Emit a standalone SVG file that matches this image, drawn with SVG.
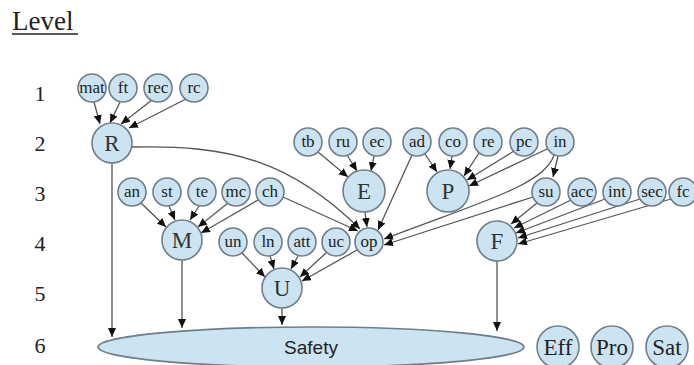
<svg xmlns="http://www.w3.org/2000/svg" width="694" height="365" viewBox="0 0 694 365">
  <defs>
    <marker id="arrow" markerUnits="userSpaceOnUse" markerWidth="9" markerHeight="8" refX="9" refY="4" orient="auto">
      <path d="M0,0 L9,4 L0,8 z" fill="#111"/>
    </marker>
    <style>
      .node circle, .node ellipse { fill: #cce3f1; stroke: #6f7e89; stroke-width: 1.6; }
      .edges path { fill: none; stroke: #555; stroke-width: 1.3; marker-end: url(#arrow); }
      .sm { font-family: "Liberation Serif", "Times New Roman", serif; font-size: 17px; fill: #1e1e1e; text-anchor: middle; }
      .bg { font-family: "Liberation Serif", "Times New Roman", serif; font-size: 23px; fill: #333; text-anchor: middle; }
      .md { font-family: "Liberation Serif", "Times New Roman", serif; font-size: 23px; fill: #222; text-anchor: middle; }
      .lvl { font-family: "Liberation Serif", "Times New Roman", serif; font-size: 22px; fill: #222; text-anchor: middle; }
      .title { font-family: "Liberation Serif", "Times New Roman", serif; font-size: 27px; fill: #222; }
    </style>
  </defs>
  <rect width="694" height="365" fill="#fff"/>

  <!-- heading and level numbers -->
  <text class="title" x="12" y="30">Level</text>
  <line x1="12" y1="34" x2="78" y2="34" stroke="#222" stroke-width="1.5"/>
  <text class="lvl" x="40" y="101">1</text>
  <text class="lvl" x="40" y="151">2</text>
  <text class="lvl" x="40" y="201">3</text>
  <text class="lvl" x="40" y="251">4</text>
  <text class="lvl" x="40" y="301">5</text>
  <text class="lvl" x="40" y="353">6</text>

  <!-- connectors -->
  <g id="connectors" class="edges">
    <path d="M94,102 L100,124"/>
    <path d="M120,102 L110,123"/>
    <path d="M152,100 L121,124"/>
    <path d="M186,99 L129,128"/>
    <path d="M132,147 C230,145 290,160 360,229"/>
    <path d="M283,197 L358,231"/>
    <path d="M365,212 L367,227"/>
    <path d="M412,155 L378,230"/>
    <path d="M554,155 C545,185 480,202 384,239"/>
    <path d="M533,197 L384,245"/>
    <path d="M425,154 L437,172"/>
    <path d="M452,156 L450,169"/>
    <path d="M479,153 L464,176"/>
    <path d="M514,151 L467,180"/>
    <path d="M547,149 L469,186"/>
    <path d="M558,156 L553,177"/>
    <path d="M318,152 L348,177"/>
    <path d="M347,155 L357,171"/>
    <path d="M374,156 L371,171"/>
    <path d="M141,203 L166,227"/>
    <path d="M169,206 L175,220"/>
    <path d="M199,206 L190,220"/>
    <path d="M228,203 L198,227"/>
    <path d="M258,200 L201,233"/>
    <path d="M242,253 L265,277"/>
    <path d="M270,256 L274,269"/>
    <path d="M298,256 L291,269"/>
    <path d="M327,252 L300,277"/>
    <path d="M357,250 L302,281"/>
    <path d="M537,203 L511,224"/>
    <path d="M571,200 L514,228"/>
    <path d="M605,199 L516,233"/>
    <path d="M640,199 L518,238"/>
    <path d="M671,199 L518,244"/>
    <path d="M112,163 L112,337"/>
    <path d="M182,260 L182,328"/>
    <path d="M282,308 L282,325"/>
    <path d="M497,261 L497,331"/>
  </g>

  <!-- level 1 -->
  <g id="mat" class="node"><circle cx="92" cy="88" r="14"/><text class="sm" x="92" y="93">mat</text></g>
  <g id="ft" class="node"><circle cx="123" cy="88" r="14"/><text class="sm" x="123" y="93">ft</text></g>
  <g id="rec" class="node"><circle cx="158" cy="88" r="14"/><text class="sm" x="158" y="93">rec</text></g>
  <g id="rc" class="node"><circle cx="194" cy="88" r="14"/><text class="sm" x="194" y="93">rc</text></g>

  <!-- level 2 -->
  <g id="R" class="node"><circle cx="112" cy="143" r="20"/><text class="bg" x="112" y="151">R</text></g>
  <g id="tb" class="node"><circle cx="308" cy="142" r="14"/><text class="sm" x="308" y="147">tb</text></g>
  <g id="ru" class="node"><circle cx="343" cy="142" r="14"/><text class="sm" x="343" y="147">ru</text></g>
  <g id="ec" class="node"><circle cx="377" cy="142" r="14"/><text class="sm" x="377" y="147">ec</text></g>
  <g id="ad" class="node"><circle cx="417" cy="142" r="14"/><text class="sm" x="417" y="147">ad</text></g>
  <g id="co" class="node"><circle cx="453" cy="142" r="14"/><text class="sm" x="453" y="147">co</text></g>
  <g id="re" class="node"><circle cx="488" cy="142" r="14"/><text class="sm" x="488" y="147">re</text></g>
  <g id="pc" class="node"><circle cx="524" cy="142" r="14"/><text class="sm" x="524" y="147">pc</text></g>
  <g id="in" class="node"><circle cx="560" cy="142" r="14"/><text class="sm" x="560" y="147">in</text></g>

  <!-- level 3 -->
  <g id="an" class="node"><circle cx="132" cy="192" r="14"/><text class="sm" x="132" y="197">an</text></g>
  <g id="st" class="node"><circle cx="167" cy="192" r="14"/><text class="sm" x="167" y="197">st</text></g>
  <g id="te" class="node"><circle cx="202" cy="192" r="14"/><text class="sm" x="202" y="197">te</text></g>
  <g id="mc" class="node"><circle cx="236" cy="192" r="14"/><text class="sm" x="236" y="197">mc</text></g>
  <g id="ch" class="node"><circle cx="270" cy="192" r="14"/><text class="sm" x="270" y="197">ch</text></g>
  <g id="E" class="node"><circle cx="364" cy="191" r="21"/><text class="bg" x="364" y="199">E</text></g>
  <g id="P" class="node"><circle cx="448" cy="191" r="21"/><text class="bg" x="448" y="199">P</text></g>
  <g id="su" class="node"><circle cx="546" cy="192" r="14"/><text class="sm" x="546" y="197">su</text></g>
  <g id="acc" class="node"><circle cx="582" cy="192" r="14"/><text class="sm" x="582" y="197">acc</text></g>
  <g id="int" class="node"><circle cx="617" cy="192" r="14"/><text class="sm" x="617" y="197">int</text></g>
  <g id="sec" class="node"><circle cx="652" cy="192" r="14"/><text class="sm" x="652" y="197">sec</text></g>
  <g id="fc" class="node"><circle cx="683" cy="192" r="14"/><text class="sm" x="683" y="197">fc</text></g>

  <!-- level 4 -->
  <g id="M" class="node"><circle cx="182" cy="240" r="20"/><text class="bg" x="182" y="248">M</text></g>
  <g id="un" class="node"><circle cx="233" cy="242" r="14"/><text class="sm" x="233" y="247">un</text></g>
  <g id="ln" class="node"><circle cx="268" cy="242" r="14"/><text class="sm" x="268" y="247">ln</text></g>
  <g id="att" class="node"><circle cx="302" cy="242" r="14"/><text class="sm" x="302" y="247">att</text></g>
  <g id="uc" class="node"><circle cx="336" cy="242" r="14"/><text class="sm" x="336" y="247">uc</text></g>
  <g id="op" class="node"><circle cx="369" cy="242" r="14"/><text class="sm" x="369" y="247">op</text></g>
  <g id="F" class="node"><circle cx="497" cy="241" r="20"/><text class="bg" x="497" y="249">F</text></g>

  <!-- level 5 -->
  <g id="U" class="node"><circle cx="282" cy="288" r="20"/><text class="bg" x="282" y="296">U</text></g>

  <!-- level 6 -->
  <g id="Safety" class="node"><ellipse cx="311" cy="347" rx="213" ry="20"/><text x="311" y="354" text-anchor="middle" font-family="Liberation Sans, Arial, sans-serif" font-size="19" fill="#222">Safety</text></g>
  <g id="Eff" class="node"><circle cx="558" cy="347" r="21"/><text class="md" x="558" y="355">Eff</text></g>
  <g id="Pro" class="node"><circle cx="612" cy="347" r="21"/><text class="md" x="612" y="355">Pro</text></g>
  <g id="Sat" class="node"><circle cx="667" cy="347" r="21"/><text class="md" x="667" y="355">Sat</text></g>
</svg>
